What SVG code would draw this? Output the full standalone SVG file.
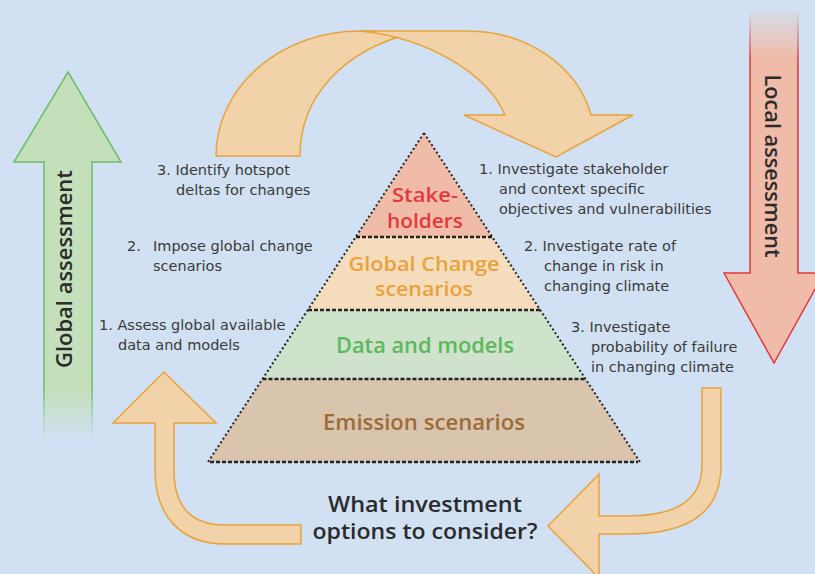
<svg xmlns="http://www.w3.org/2000/svg" width="815" height="574" viewBox="0 0 815 574">
  <defs>
    <linearGradient id="greenFill" gradientUnits="userSpaceOnUse" x1="0" y1="72" x2="0" y2="440">
      <stop offset="0" stop-color="#c3e0bb"/>
      <stop offset="0.86" stop-color="#c3e0bb"/>
      <stop offset="1" stop-color="#d1e1f3"/>
    </linearGradient>
    <linearGradient id="greenStroke" gradientUnits="userSpaceOnUse" x1="0" y1="72" x2="0" y2="440">
      <stop offset="0" stop-color="#6dbd6a"/>
      <stop offset="0.86" stop-color="#6dbd6a"/>
      <stop offset="1" stop-color="#d1e1f3"/>
    </linearGradient>
    <linearGradient id="redFill" gradientUnits="userSpaceOnUse" x1="0" y1="10" x2="0" y2="363">
      <stop offset="0" stop-color="#d4dde9"/>
      <stop offset="0.14" stop-color="#f0bba8"/>
      <stop offset="1" stop-color="#f0bba8"/>
    </linearGradient>
    <linearGradient id="redStroke" gradientUnits="userSpaceOnUse" x1="0" y1="10" x2="0" y2="363">
      <stop offset="0" stop-color="#d1e1f3"/>
      <stop offset="0.14" stop-color="#e0383a"/>
      <stop offset="1" stop-color="#e0383a"/>
    </linearGradient>
    <style>
      .flow { fill: #f2d2a8; stroke: #e8a33d; stroke-width: 1.5; stroke-linejoin: miter; }
      .note { font-family: "DejaVu Sans", Verdana, sans-serif; font-size: 14.5px; fill: #3a3a3a; }
      .tier { font-family: "Open Sans", "Noto Sans", sans-serif; font-weight: 600; font-size: 22px; text-anchor: middle; }
      .tier2 { font-size: 19px; }
      .axis { font-family: "Open Sans", "Noto Sans", sans-serif; font-weight: 600; font-size: 21px; fill: #2b2b2b; text-anchor: middle; }
      .side { stroke: #222; stroke-width: 2; stroke-dasharray: 2 2.5; fill: none; }
      .step { stroke: #222; stroke-width: 2.5; stroke-dasharray: 4 2; fill: none; }
    </style>
  </defs>

  <rect width="815" height="574" fill="#d1e1f3"/>

  <!-- Global assessment (upward) -->
  <g id="global-assessment">
    <path d="M68,72 L121,162 L92,162 L92,440 L44,440 L44,162 L14,162 Z" fill="url(#greenFill)" stroke="url(#greenStroke)" stroke-width="1.5"/>
    <text class="axis" transform="translate(72,269) rotate(-90)" textLength="198" lengthAdjust="spacingAndGlyphs">Global assessment</text>
  </g>

  <!-- Local assessment (downward) -->
  <g id="local-assessment">
    <path d="M750,10 L798,10 L798,273 L824,273 L774,363 L724,273 L750,273 Z" fill="url(#redFill)" stroke="url(#redStroke)" stroke-width="1.5"/>
    <text class="axis" transform="translate(765,166) rotate(90)" textLength="183" lengthAdjust="spacingAndGlyphs">Local assessment</text>
  </g>

  <!-- Cycle arrows -->
  <g id="connectors">
    <path class="flow" d="M216,156 A144,125 0 0 1 360,31 L412,33 C345,50 300,95 300,156 Z"/>
    <path class="flow" d="M360,31 L467,31 A127,109 0 0 1 591,115 L633,115 L556,157 L464,115 L505,115 C488,75 430,38 360,31 Z"/>
    <path class="flow" d="M702,388 L721,388 L721,465 C721,512 690,534 627,534 L599,534 L599,578 L548,526 L599,474 L599,516 L627,516 C680,516 702,498 702,465 Z"/>
    <path class="flow" d="M164,372 L216,423 L174,423 L174,470 C174,505 190,525 225,525 L301,525 L301,544 L225,544 C180,544 155,515 155,470 L155,423 L113,423 Z"/>
  </g>

  <!-- Pyramid tiers -->
  <g id="tier-emission">
    <polygon points="262.5,379 585.5,379 640,462 208,462" fill="#d9c4ae"/>
    <text class="tier" x="424" y="430" fill="#9c6b36" textLength="202" lengthAdjust="spacingAndGlyphs">Emission scenarios</text>
  </g>
  <g id="tier-data">
    <polygon points="308,310 540,310 585.5,379 262.5,379" fill="#cfe2cb"/>
    <text class="tier" x="425" y="353" fill="#5cb85c" textLength="178" lengthAdjust="spacingAndGlyphs">Data and models</text>
  </g>
  <g id="tier-global-change">
    <polygon points="356,237 492,237 540,310 308,310" fill="#f5dcbc"/>
    <text class="tier tier2" x="424" y="271" fill="#e9a23b" textLength="151" lengthAdjust="spacingAndGlyphs">Global Change</text>
    <text class="tier tier2" x="424" y="296" fill="#e9a23b" textLength="98" lengthAdjust="spacingAndGlyphs">scenarios</text>
  </g>
  <g id="tier-stakeholders">
    <polygon points="424,133 492,237 356,237" fill="#f0bca8"/>
    <text class="tier tier2" x="425" y="202" fill="#e03a3e" textLength="66" lengthAdjust="spacingAndGlyphs">Stake-</text>
    <text class="tier tier2" x="425" y="228" fill="#e03a3e" textLength="76" lengthAdjust="spacingAndGlyphs">holders</text>
  </g>

  <!-- Pyramid outline -->
  <g id="pyramid-outline">
    <path class="side" d="M424,133 L208,462 M424,133 L640,462"/>
    <path class="step" d="M356,237 H492 M308,310 H540 M262.5,379 H585.5"/>
    <path class="step" d="M210,462 H638" stroke-width="3"/>
  </g>

  <!-- Global-side steps -->
  <g id="step-global-3">
    <text class="note" x="157" y="175">3. Identify hotspot</text>
    <text class="note" x="176" y="195">deltas for changes</text>
  </g>
  <g id="step-global-2">
    <text class="note" x="127" y="251">2.</text>
    <text class="note" x="153" y="251">Impose global change</text>
    <text class="note" x="153" y="271">scenarios</text>
  </g>
  <g id="step-global-1">
    <text class="note" x="99" y="330">1. Assess global available</text>
    <text class="note" x="118" y="350">data and models</text>
  </g>

  <!-- Local-side steps -->
  <g id="step-local-1">
    <text class="note" x="479" y="174">1. Investigate stakeholder</text>
    <text class="note" x="499" y="194">and context specific</text>
    <text class="note" x="499" y="214">objectives and vulnerabilities</text>
  </g>
  <g id="step-local-2">
    <text class="note" x="524" y="251">2. Investigate rate of</text>
    <text class="note" x="544" y="271">change in risk in</text>
    <text class="note" x="544" y="291">changing climate</text>
  </g>
  <g id="step-local-3">
    <text class="note" x="571" y="332">3. Investigate</text>
    <text class="note" x="591" y="352">probability of failure</text>
    <text class="note" x="591" y="372">in changing climate</text>
  </g>

  <!-- Decision -->
  <g id="investment-question">
    <text class="axis" x="425" y="512" font-size="22" fill="#2a2a2a" textLength="194" lengthAdjust="spacingAndGlyphs">What investment</text>
    <text class="axis" x="425" y="539" font-size="22" fill="#2a2a2a" textLength="225" lengthAdjust="spacingAndGlyphs">options to consider?</text>
  </g>
</svg>
